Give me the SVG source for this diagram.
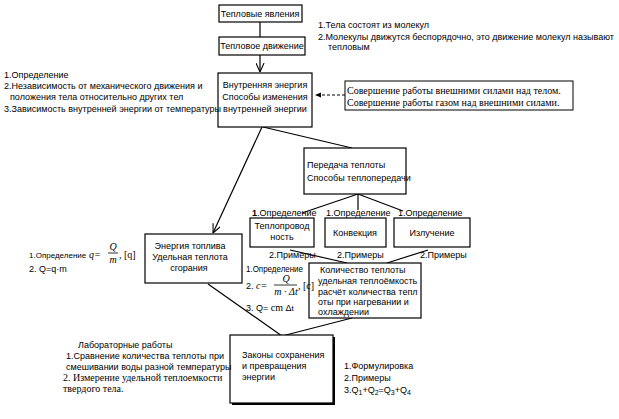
<svg xmlns="http://www.w3.org/2000/svg" width="619" height="419" viewBox="0 0 619 419">
<defs>
<marker id="open" viewBox="0 0 10 10" refX="10" refY="5" markerWidth="9" markerHeight="9" markerUnits="userSpaceOnUse" orient="auto"><path d="M0,0.5 L10,5 L0,9.5" fill="none" stroke="#000" stroke-width="1.2"/></marker>
<marker id="solid" viewBox="0 0 10 10" refX="10" refY="5" markerWidth="6" markerHeight="6" markerUnits="userSpaceOnUse" orient="auto"><path d="M0,1 L10,5 L0,9z" fill="#000"/></marker>
<style>
.box{fill:#fff;stroke:#000;stroke-width:1.2}
.ln{fill:none;stroke:#000;stroke-width:1.2}
.t{font-family:"Liberation Sans",Arial,sans-serif;font-size:9px;fill:#000}
.c{text-anchor:middle}
.serif{font-family:"Liberation Serif","Times New Roman",serif;font-size:10px;fill:#000}
.it{font-family:"Liberation Serif","Times New Roman",serif;font-style:italic;font-size:10px;fill:#000}
</style>
</defs>
<rect width="619" height="419" fill="#fff"/>

<g id="connectors">
<line class="ln" x1="260" y1="22" x2="260" y2="37"/>
<line class="ln" x1="260" y1="55" x2="260" y2="72" marker-end="url(#open)"/>
<line x1="345" y1="95" x2="315" y2="95" stroke="#000" stroke-width="1" stroke-dasharray="3,2" marker-end="url(#solid)"/>
<line class="ln" x1="262" y1="127" x2="213" y2="233" marker-end="url(#open)"/>
<line class="ln" x1="263" y1="127" x2="352" y2="148"/>
<line class="ln" x1="358" y1="194" x2="302" y2="213"/>
<line class="ln" x1="358" y1="194" x2="358" y2="210"/>
<line class="ln" x1="358" y1="194" x2="403" y2="211"/>
<line class="ln" x1="290" y1="250" x2="347" y2="263"/>
<line class="ln" x1="428" y1="250" x2="387" y2="263"/>
<line class="ln" x1="208" y1="284" x2="282" y2="336"/>
<line class="ln" x1="282" y1="336" x2="352" y2="318"/>
</g>

<g id="n-yavleniya">
<rect class="box" x="219" y="5" width="83" height="17"/>
<text class="t c" x="260" y="17">Тепловые явления</text>
</g>
<g id="n-molekuly-text">
<text class="t" x="318" y="28">1.Тела состоят из молекул</text>
<text class="t" x="318" y="40">2.Молекулы движутся беспорядочно, это движение молекул называют</text>
<text class="t" x="328" y="50">тепловым</text>
</g>
<g id="n-dvizhenie">
<rect class="box" x="219" y="37" width="86" height="18"/>
<text class="t c" x="262" y="49">Тепловое движение</text>
</g>
<g id="n-vnutrennyaya">
<rect class="box" x="218" y="73" width="94" height="54"/>
<text class="t c" x="265" y="88">Внутренняя энергия</text>
<text class="t c" x="265" y="100">Способы изменения</text>
<text class="t c" x="265" y="112">внутренней энергии</text>
</g>
<g id="n-vnutr-text">
<text class="t" x="4" y="78">1.Определение</text>
<text class="t" x="4" y="89">2.Независимость от механического движения и</text>
<text class="t" x="10" y="100">положения тела относительно других тел</text>
<text class="t" x="4" y="112">3.Зависимость внутренней энергии от температуры</text>
</g>
<g id="n-rabota">
<rect x="345" y="81" width="228" height="29" fill="#fff" stroke="#000" stroke-width="1"/>
<text class="serif" style="font-family:'Liberation Serif','Times New Roman',serif" x="347" y="94">Совершение работы внешними силами над телом.</text>
<text class="serif" style="font-family:'Liberation Serif','Times New Roman',serif" x="347" y="106">Совершение работы газом над внешними силами.</text>
</g>
<g id="n-peredacha">
<rect class="box" x="304" y="148" width="102" height="46"/>
<text class="t" x="307" y="168">Передача теплоты</text>
<text class="t" x="307" y="181">Способы теплопередачи</text>
</g>
<g id="n-labels-opr">
<text class="t" x="252" y="216"><tspan font-weight="bold">1</tspan>.Определение</text>
<text class="t" x="326" y="216">1.Определение</text>
<text class="t" x="398" y="216">1.Определение</text>
<text class="t" x="269" y="258">2.Примеры</text>
<text class="t" x="337" y="258">2.Примеры</text>
<text class="t" x="420" y="258">2.Примеры</text>
</g>
<g id="n-teploprovod">
<rect class="box" x="250" y="218" width="64" height="29"/>
<text class="t c" x="282" y="229">Теплопровод</text>
<text class="t c" x="282" y="240">ность</text>
</g>
<g id="n-konvekciya">
<rect class="box" x="325" y="218" width="61" height="29"/>
<text class="t c" x="355" y="236">Конвекция</text>
</g>
<g id="n-izluchenie">
<rect class="box" x="394" y="218" width="76" height="29"/>
<text class="t c" x="432" y="236">Излучение</text>
</g>
<g id="n-kolichestvo">
<rect class="box" x="309" y="263" width="112" height="55"/>
<text class="t" x="320" y="273">Количество теплоты</text>
<text class="t" x="318" y="284">удельная теплоёмкость</text>
<text class="t" x="318" y="295">расчёт количества тепл</text>
<text class="t" x="318" y="305">оты при нагревании и</text>
<text class="t" x="318" y="315">охлаждении</text>
</g>
<g id="n-kol-text">
<text class="t" x="246" y="272" textLength="57" lengthAdjust="spacingAndGlyphs">1.Определение</text>
<text class="t" x="246" y="289">2.</text>
<text class="it" style="font-family:'Liberation Serif','Times New Roman',serif;font-style:italic" x="256" y="289">c=</text>
<text class="it c" style="font-family:'Liberation Serif','Times New Roman',serif;font-style:italic" x="286" y="282">Q</text>
<line x1="274" y1="285" x2="297" y2="285" stroke="#000" stroke-width="0.8"/>
<text class="it c" style="font-family:'Liberation Serif','Times New Roman',serif;font-style:italic" x="286" y="295">m · Δt</text>
<text class="serif" style="font-family:'Liberation Serif','Times New Roman',serif" x="298" y="289">, [c]</text>
<text class="t" x="246" y="311">3. Q= <tspan style="font-family:'Liberation Serif','Times New Roman',serif;font-size:10px">cm</tspan> Δ<tspan font-size="8px">t</tspan></text>
</g>
<g id="n-toplivo">
<rect class="box" x="145" y="234" width="97" height="49"/>
<text class="t c" x="190" y="249">Энергия топлива</text>
<text class="t c" x="190" y="260">Удельная теплота</text>
<text class="t c" x="189" y="271">сгорания</text>
</g>
<g id="n-toplivo-text">
<text class="t" style="font-size:8px" x="29" y="258">1.Определение</text>
<text class="it" style="font-family:'Liberation Serif','Times New Roman',serif;font-style:italic" x="89" y="258">q=</text>
<text class="it c" style="font-family:'Liberation Serif','Times New Roman',serif;font-style:italic" x="113" y="250">Q</text>
<line x1="108" y1="253" x2="118" y2="253" stroke="#000" stroke-width="0.8"/>
<text class="it c" style="font-family:'Liberation Serif','Times New Roman',serif;font-style:italic" x="113" y="263">m</text>
<text class="serif" style="font-family:'Liberation Serif','Times New Roman',serif" x="119" y="258">, [q]</text>
<text class="t" x="29" y="272">2. Q=q·m</text>
</g>
<g id="n-zakony">
<rect x="232" y="337" width="103" height="68" fill="#000"/>
<rect class="box" x="230" y="335" width="103" height="68"/>
<text class="t" x="242" y="358">Законы сохранения</text>
<text class="t" x="242" y="369">и превращения</text>
<text class="t" x="242" y="380">энергии</text>
</g>
<g id="n-zakony-text">
<text class="t" x="344" y="369">1.Формулировка</text>
<text class="t" x="344" y="381">2.Примеры</text>
<text class="t" x="344" y="393">3.Q<tspan dy="2" font-size="7px">1</tspan><tspan dy="-2">+Q</tspan><tspan dy="2" font-size="7px">2</tspan><tspan dy="-2">=Q</tspan><tspan dy="2" font-size="7px">3</tspan><tspan dy="-2">+Q</tspan><tspan dy="2" font-size="7px">4</tspan></text>
</g>
<g id="n-lab">
<text class="t" x="78" y="348">Лабораторные работы</text>
<text class="t" x="66" y="359">1.Сравнение количества теплоты при</text>
<text class="t" x="66" y="370">смешивании воды разной температуры</text>
<text class="serif" style="font-family:'Liberation Serif','Times New Roman',serif" x="63" y="381">2. Измерение удельной теплоемкости</text>
<text class="serif" style="font-family:'Liberation Serif','Times New Roman',serif" x="63" y="392">твердого тела.</text>
</g>
</svg>
